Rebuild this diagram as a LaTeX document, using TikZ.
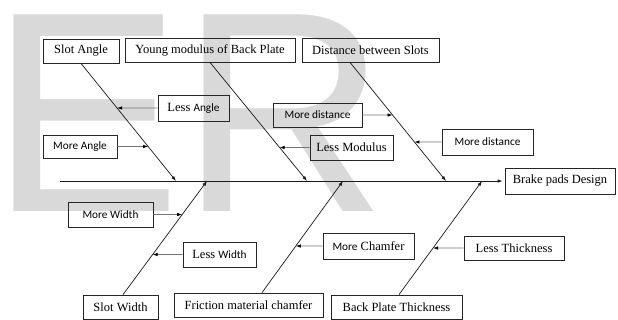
\documentclass[tikz,border=0pt]{standalone}
\usepackage{fontspec}
\setmainfont{Liberation Serif}
\newfontfamily\calibfont{Carlito}
\newfontfamily\wmfont{Liberation Sans}
\usetikzlibrary{arrows.meta}
\newcommand{\calib}[1]{{\calibfont\fontsize{11.3}{13}\selectfont #1}}

\begin{document}
\begin{tikzpicture}[x=1pt, y=-1pt,
    box/.style={draw=black!85, line width=0.8pt, rectangle, inner sep=0pt, font=\fontsize{12.5}{14}\selectfont},
    bone/.style={black!90, line width=0.7pt, -{Latex[length=5pt, width=3.5pt]}},
    side/.style={black!55, line width=0.7pt, -{Latex[black, length=5pt, width=3.5pt]}}]
\useasboundingbox (0,0) rectangle (618,320);
\node[anchor=base west, inner sep=0pt, text=black!15, font=\wmfont\fontsize{286}{286}\selectfont] (W) at (-10,212) {ER};

\node[box, minimum width=76pt, minimum height=24pt] (SA) at (81,51) {Slot Angle};
\node[box, minimum width=170pt, minimum height=24pt] (YM) at (210,50) {Young modulus of Back Plate};
\node[box, minimum width=137pt, minimum height=24pt] (DS) at (370.5,50) {Distance between Slots};
\node[box, minimum width=110pt, minimum height=26pt] (BP) at (560,181) {Brake pads Design};
\node[box, minimum width=75pt, minimum height=24pt] (SW) at (120.5,307) {Slot Width};
\node[box, minimum width=149pt, minimum height=24pt] (FC) at (248.5,305) {Friction material chamfer};
\node[box, minimum width=131pt, minimum height=24pt] (BT) at (396.5,307) {Back Plate Thickness};

\node[box, minimum width=71pt, minimum height=26pt] (LA) at (193.5,108) {Less \calib{Angle}};
\node[box, minimum width=74pt, minimum height=23pt] (MA) at (80,146.5) {\calib{More Angle}};
\node[box, minimum width=89pt, minimum height=24pt] (MDa) at (317.5,115) {\calib{More distance}};
\node[box, minimum width=83pt, minimum height=25pt] (LM) at (351.5,147.5) {Less Modulus};
\node[box, minimum width=91pt, minimum height=26pt] (MDb) at (487.5,142) {\calib{More distance}};
\node[box, minimum width=85pt, minimum height=25pt] (MW) at (110.5,214.5) {\calib{More Width}};
\node[box, minimum width=73pt, minimum height=25pt] (LW) at (219.5,254.5) {Less \calib{Width}};
\node[box, minimum width=91pt, minimum height=26pt] (MC) at (368.5,246) {\calib{More} Chamfer};
\node[box, minimum width=100pt, minimum height=24pt] (LT) at (514,248) {Less Thickness};

\coordinate (S) at (60,181);
\coordinate (s1) at (176,181);
\coordinate (s2) at (307,181);
\coordinate (s3) at (446,181);
\coordinate (s4) at (207,181);
\coordinate (s5) at (343,181);
\coordinate (s6) at (482,181);
\coordinate (t3) at ([xshift=-20.5pt]DS.south);
\coordinate (b4) at ([xshift=2.5pt]SW.north);
\coordinate (b5) at ([xshift=13.5pt]FC.north);
\coordinate (b6) at ([xshift=2.5pt]BT.north);

\draw[bone, line width=0.8pt, shorten >=2pt] (S) -- (BP.west);
\draw[bone] (SA.south) -- (s1);
\draw[bone] (YM.south) -- (s2);
\draw[bone] (t3) -- (s3);
\draw[bone] (b4) -- (s4);
\draw[bone] (b5) -- (s5);
\draw[bone] (b6) -- (s6);

\draw[side] (LA.west) -- (intersection of SA.south--s1 and LA.west--LA.east);
\draw[side] (MA.east) -- (intersection of SA.south--s1 and MA.west--MA.east);
\draw[side] (MDa.east) -- (intersection of t3--s3 and MDa.west--MDa.east);
\draw[side] (LM.west) -- (intersection of YM.south--s2 and LM.west--LM.east);
\draw[side] (MDb.west) -- (intersection of t3--s3 and MDb.west--MDb.east);
\draw[side] (MW.east) -- (intersection of b4--s4 and MW.west--MW.east);
\draw[side] (LW.west) -- (intersection of b4--s4 and LW.west--LW.east);
\draw[side] (MC.west) -- (intersection of b5--s5 and MC.west--MC.east);
\draw[side] (LT.west) -- (intersection of b6--s6 and LT.west--LT.east);
\end{tikzpicture}
\end{document}
